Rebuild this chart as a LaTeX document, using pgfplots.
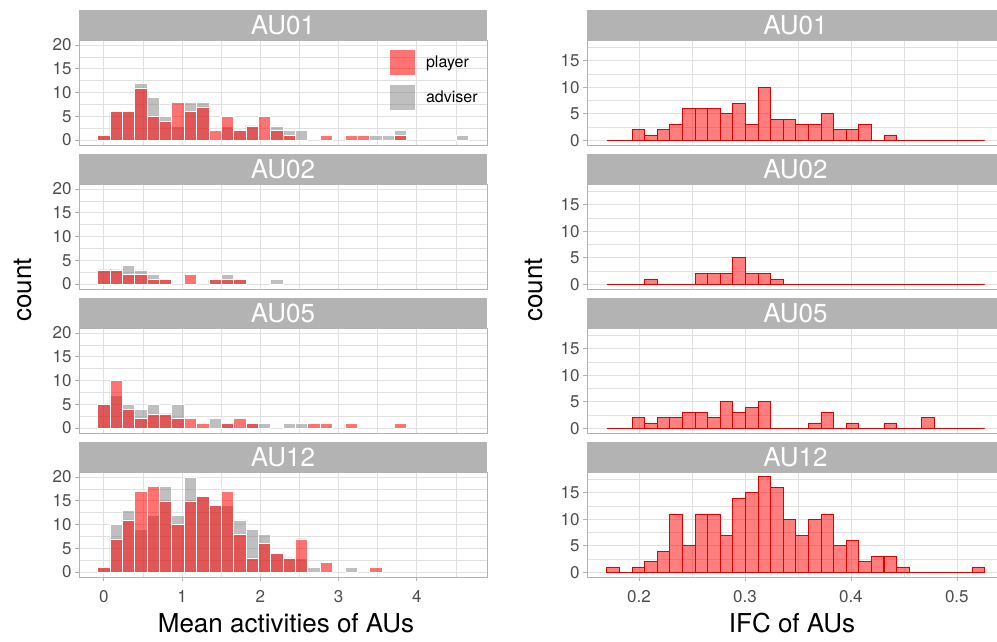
\documentclass[border=0pt]{standalone}
\usepackage{pgfplots}
\pgfplotsset{compat=1.18}
\usepackage{pgfplotstable}
\usepackage{fontspec}
\setmainfont{TeX Gyre Heros}
\definecolor{stripgray}{HTML}{B3B3B3}
\definecolor{gridgray}{HTML}{E0E0E0}
\definecolor{bordergray}{HTML}{B3B3B3}
\definecolor{ticktext}{HTML}{4D4D4D}
\definecolor{advgray}{HTML}{808080}
\definecolor{bardred}{HTML}{E00000}
\newcommand{\stripfont}{\fontsize{26bp}{26bp}\selectfont}
\newcommand{\titlefont}{\fontsize{26bp}{26bp}\selectfont}

% left column: bin centre x, player / adviser counts for AU01, AU02, AU05, AU12
\pgfplotstableread{
x     p01 a01 p02 a02 p05 a05 p12 a12
0.000 1   1   3   3   5   5   1   1
0.158 6   6   3   3   10  7   7   10
0.316 6   6   2   4   4   5   11  13
0.474 11  12  2   3   2   4   17  9
0.632 5   9   1   2   3   5   18  12
0.790 4   5   1   1   3   3   15  18
0.948 8   3   0   0   2   5   10  12
1.106 6   8   2   0   2   0   15  20
1.264 7   8   0   0   1   0   16  16
1.422 2   0   1   1   0   2   14  14
1.580 5   3   1   2   1   1   17  14
1.738 2   2   1   1   2   0   8   11
1.896 3   3   0   0   1   1   3   9
2.054 5   0   0   0   0   1   6   8
2.212 2   3   0   1   0   0   4   4
2.370 1   2   0   0   0   1   3   3
2.528 0   2   0   0   0   1   7   3
2.686 0   0   0   0   1   0   0   1
2.844 1   0   0   0   1   0   2   0
3.002 0   0   0   0   0   0   0   0
3.160 1   0   0   0   1   0   0   1
3.318 1   0   0   0   0   0   0   0
3.476 0   1   0   0   0   0   1   0
3.634 0   1   0   0   0   0   0   0
3.792 1   2   0   0   1   0   0   0
3.950 0   0   0   0   0   0   0   0
4.108 0   0   0   0   0   0   0   0
4.266 0   0   0   0   0   0   0   0
4.424 0   0   0   0   0   0   0   0
4.582 0   1   0   0   0   0   0   0
}\lefttab

% right column: bin centre x, counts for AU01, AU02, AU05, AU12
\pgfplotstableread{
x      r01 r02 r05 r12
0.1757 0   0   0   1
0.1876 0   0   0   0
0.1995 2   0   2   1
0.2113 1   1   1   2
0.2232 2   0   2   4
0.2351 3   0   2   11
0.2470 6   0   3   5
0.2589 6   2   3   11
0.2707 6   2   2   11
0.2826 5   2   5   7
0.2945 7   5   3   14
0.3064 3   2   4   15
0.3183 10  2   5   18
0.3301 4   1   0   16
0.3420 4   0   0   10
0.3539 3   0   0   7
0.3658 3   0   1   10
0.3777 5   0   3   11
0.3895 2   0   0   5
0.4014 2   0   1   6
0.4133 3   0   0   2
0.4252 0   0   0   3
0.4371 1   0   1   3
0.4489 0   0   0   1
0.4608 0   0   0   0
0.4727 0   0   2   0
0.4846 0   0   0   0
0.4965 0   0   0   0
0.5083 0   0   0   0
0.5202 0   0   0   1
}\righttab

\pgfplotsset{
  facet/.style={
    scale only axis, height=105bp,
    axis line style={draw=bordergray, line width=0.6bp},
    grid=both,
    major grid style={draw=gridgray, line width=0.7bp},
    minor grid style={draw=gridgray, line width=0.35bp},
    tick align=outside,
    major tick length=4bp, minor tick length=0bp,
    tick style={draw=bordergray, line width=0.6bp},
    tick label style={font=\fontsize{17bp}{17bp}\selectfont, text=ticktext},
    xticklabel style={yshift=-6bp},
    /pgf/number format/assume math mode=true,
    ytick pos=left,
    clip=true,
  },
  leftfacet/.style={facet, width=408bp,
    xmin=-0.316, xmax=4.898, ymin=-1.05, ymax=21.05,
    xtick={0,1,2,3,4}, minor xtick={0.5,1.5,2.5,3.5,4.5},
    ytick={0,5,10,15,20}, minor ytick={2.5,7.5,12.5,17.5}},
  rightfacet/.style={facet, width=417bp,
    xmin=0.151, xmax=0.5445, ymin=-0.9, ymax=18.9,
    xtick={0.2,0.3,0.4,0.5}, minor xtick={0.15,0.25,0.35,0.45},
    ytick={0,5,10,15}, minor ytick={2.5,7.5,12.5,17.5},
    xticklabel style={/pgf/number format/fixed, /pgf/number format/precision=1}},
  innerp/.style={xticklabels={}, xtick pos=right},
  bottomp/.style={xtick pos=left},
  advbar/.style={ybar, bar shift=0pt, bar width=0.158, fill=advgray, fill opacity=0.5, draw=white, line width=0.5bp, restrict y to domain=0.5:100},
  plabar/.style={ybar, bar shift=0pt, bar width=0.158, fill=red, fill opacity=0.55, draw=white, line width=0.5bp, restrict y to domain=0.5:100},
  rbar/.style={ybar, bar shift=0pt, bar width=0.01188, fill=red, fill opacity=0.5, draw=bardred, line width=0.8bp},
}

\begin{document}
\begin{tikzpicture}
\useasboundingbox (0,0) rectangle (997bp,-642bp);

% ---------------- left column ----------------
\begin{axis}[leftfacet, innerp, name=L1, at={(79bp,-145bp)}, anchor=south west,
  legend style={at={(0.762,0.91)}, anchor=north west, draw=none, fill=none,
    font=\fontsize{16bp}{16bp}\selectfont, row sep=10bp, inner sep=0pt,
    nodes={inner sep=3bp},
    /tikz/every odd column/.append style={column sep=8bp}},
  legend cell align=left]
\addlegendimage{legend image code/.code={\path[draw=none, fill=red, fill opacity=0.55] (0bp,-12.5bp) rectangle (25bp,12.5bp);}}
\addlegendentry{player}
\addlegendimage{legend image code/.code={\path[draw=none, fill=advgray, fill opacity=0.5] (0bp,-12.5bp) rectangle (25bp,12.5bp);}}
\addlegendentry{adviser}
\addplot[advbar, forget plot] table[x=x, y=a01] {\lefttab};
\addplot[plabar, forget plot] table[x=x, y=p01] {\lefttab};
\end{axis}

\begin{axis}[leftfacet, innerp, name=L2, at={(79bp,-289bp)}, anchor=south west]
\addplot[advbar] table[x=x, y=a02] {\lefttab};
\addplot[plabar] table[x=x, y=p02] {\lefttab};
\end{axis}

\begin{axis}[leftfacet, innerp, name=L3, at={(79bp,-433bp)}, anchor=south west]
\addplot[advbar] table[x=x, y=a05] {\lefttab};
\addplot[plabar] table[x=x, y=p05] {\lefttab};
\end{axis}

\begin{axis}[leftfacet, bottomp, name=L4, at={(79bp,-577bp)}, anchor=south west]
\addplot[advbar] table[x=x, y=a12] {\lefttab};
\addplot[plabar] table[x=x, y=p12] {\lefttab};
\end{axis}

% ---------------- right column ----------------
\begin{axis}[rightfacet, innerp, name=R1, at={(587bp,-145bp)}, anchor=south west]
\addplot[rbar] table[x=x, y=r01] {\righttab};
\end{axis}

\begin{axis}[rightfacet, innerp, name=R2, at={(587bp,-289bp)}, anchor=south west]
\addplot[rbar] table[x=x, y=r02] {\righttab};
\end{axis}

\begin{axis}[rightfacet, innerp, name=R3, at={(587bp,-433bp)}, anchor=south west]
\addplot[rbar] table[x=x, y=r05] {\righttab};
\end{axis}

\begin{axis}[rightfacet, bottomp, name=R4, at={(587bp,-577bp)}, anchor=south west]
\addplot[rbar] table[x=x, y=r12] {\righttab};
\end{axis}

% ---------------- strips ----------------
\foreach \ax/\lab in {L1/AU01, L2/AU02, L3/AU05, L4/AU12, R1/AU01, R2/AU02, R3/AU05, R4/AU12}{
  \fill[stripgray] ([yshift=-0.3bp]\ax.north west) rectangle ([yshift=30bp]\ax.north east);
  \node[text=white, font=\stripfont, anchor=center] at ([yshift=15bp]\ax.north) {\lab};
}

% ---------------- axis titles ----------------
\node[font=\titlefont, rotate=90] at (23bp,-290bp) {count};
\node[font=\titlefont, rotate=90] at (534bp,-290bp) {count};
\node[font=\titlefont] at (286bp,-623bp) {Mean activities of AUs};
\node[font=\titlefont] at (792bp,-623bp) {IFC of AUs};
\end{tikzpicture}
\end{document}
